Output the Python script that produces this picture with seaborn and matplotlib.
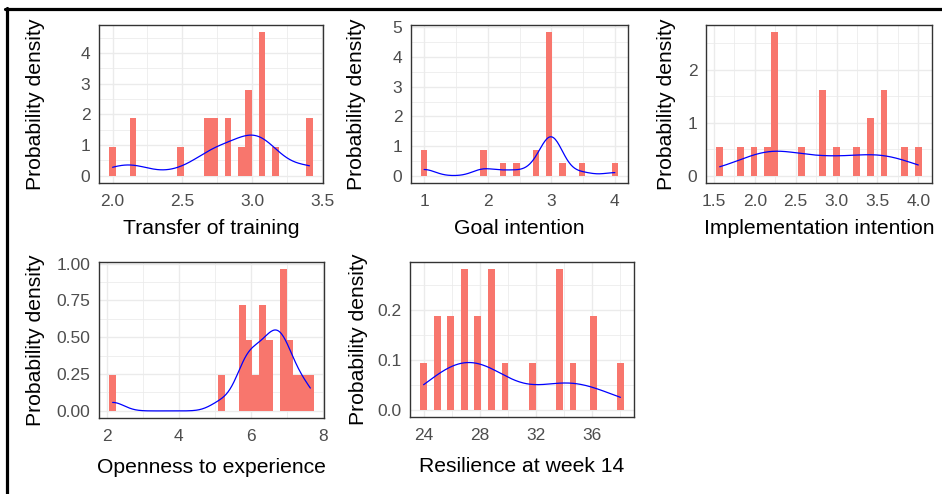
import matplotlib
matplotlib.use("Agg")
import matplotlib.pyplot as plt
from matplotlib.lines import Line2D
from matplotlib.ticker import AutoMinorLocator, FormatStrFormatter, MultipleLocator
import numpy as np
import pandas as pd
import seaborn as sns


TRANSFER_VALUES = [2.00, 2.15, 2.49, 2.68, 2.73, 2.83, 2.92, 2.97, 3.07, 3.17, 3.41]
TRANSFER_COUNTS = [1, 2, 1, 2, 2, 2, 1, 3, 5, 1, 2]

GOAL_VALUES = [1.00, 1.93, 2.24, 2.45, 2.76, 3.00, 3.17, 3.48, 4.00]
GOAL_COUNTS = [2, 2, 1, 1, 2, 11, 1, 1, 1]

IMPL_VALUES = [1.57, 1.82, 1.99, 2.16, 2.24, 2.58, 2.83, 3.00, 3.25, 3.41, 3.58, 3.83, 4.00]
IMPL_COUNTS = [1, 1, 1, 1, 5, 1, 3, 1, 1, 2, 3, 1, 1]

OPEN_VALUES = [2.17, 5.19, 5.84, 5.95, 6.20, 6.40, 6.60, 6.82, 7.00, 7.27, 7.46, 7.65]
OPEN_COUNTS = [1, 1, 3, 2, 1, 3, 2, 4, 2, 1, 1, 1]

RESIL_VALUES = [24.0, 24.97, 25.93, 26.90, 27.86, 28.83, 29.79, 31.72, 33.66, 34.62, 36.07, 38.0]
RESIL_COUNTS = [1, 2, 2, 3, 2, 3, 1, 1, 3, 1, 2, 1]

VARIABLES = [
    "Transfer of training",
    "Goal intention",
    "Implementation intention",
    "Openness to experience",
    "Resilience at week 14",
]
DATA = {
    "Transfer of training": (TRANSFER_VALUES, TRANSFER_COUNTS),
    "Goal intention": (GOAL_VALUES, GOAL_COUNTS),
    "Implementation intention": (IMPL_VALUES, IMPL_COUNTS),
    "Openness to experience": (OPEN_VALUES, OPEN_COUNTS),
    "Resilience at week 14": (RESIL_VALUES, RESIL_COUNTS),
}

W, H = 942, 494
# panel boxes in pixels (left, top, right, bottom), tick steps/formats, label offsets
LAYOUT = {
    "Transfer of training": dict(box=(99, 25, 323, 183), xs=0.5, xf="%.1f", ys=1, yf="%d", ylx=36, xly=46),
    "Goal intention": dict(box=(411, 25, 628, 183), xs=1, xf="%d", ys=1, yf="%d", ylx=357, xly=46),
    "Implementation intention": dict(box=(706, 25, 932, 183), xs=0.5, xf="%.1f", ys=1, yf="%d", ylx=667, xly=46),
    "Openness to experience": dict(box=(99, 262, 324, 418), xs=2, xf="%d", ys=0.25, yf="%.2f", ylx=36, xly=49),
    "Resilience at week 14": dict(box=(410, 262, 634, 417), xs=4, xf="%d", ys=0.1, yf="%.1f", ylx=359, xly=49),
}

BAR = "#F8766D"
LINE = "#0000FF"

sns.set_style("white")
plt.rcParams["font.family"] = ["Liberation Sans", "DejaVu Sans"]


def nrd0_adjust(x):
    # R's bw.nrd0 expressed relative to scipy's scott factor
    sd = np.std(x, ddof=1)
    iqr = np.subtract(*np.percentile(x, [75, 25]))
    return 0.9 * min(sd, iqr / 1.34) / sd


fig = plt.figure(figsize=(W / 100, H / 100), dpi=100)

for name in VARIABLES:
    vals, counts = DATA[name]
    df = pd.DataFrame({"score": np.repeat(vals, counts)})
    lay = LAYOUT[name]
    l, t, r, b = lay["box"]
    ax = fig.add_axes([l / W, 1 - b / H, (r - l) / W, (b - t) / H])

    lo, hi = df["score"].min(), df["score"].max()
    bw = (hi - lo) / 29
    sns.histplot(
        data=df, x="score", bins=30, binrange=(lo - bw / 2, hi + bw / 2),
        stat="density", color=BAR, alpha=1, linewidth=0, ax=ax, zorder=2,
    )
    sns.kdeplot(
        data=df, x="score", bw_adjust=nrd0_adjust(df["score"]), cut=0,
        color=LINE, linewidth=0.9, ax=ax, zorder=3,
    )

    ax.use_sticky_edges = False
    ax.margins(0.05)
    ax.autoscale_view()

    ax.xaxis.set_major_locator(MultipleLocator(lay["xs"]))
    ax.yaxis.set_major_locator(MultipleLocator(lay["ys"]))
    ax.xaxis.set_major_formatter(FormatStrFormatter(lay["xf"]))
    ax.yaxis.set_major_formatter(FormatStrFormatter(lay["yf"]))
    ax.xaxis.set_minor_locator(AutoMinorLocator(2))
    ax.yaxis.set_minor_locator(AutoMinorLocator(2))
    ax.set_axisbelow(True)
    ax.grid(which="major", color="#EBEBEB", linewidth=1.0)
    ax.grid(which="minor", color="#EBEBEB", linewidth=0.55)
    ax.tick_params(which="major", direction="out", length=3.2, width=0.8,
                   color="#333333", labelcolor="#4D4D4D", labelsize=12.5)
    ax.tick_params(axis="x", which="major", pad=4.5)
    ax.tick_params(axis="y", which="major", pad=3)
    ax.tick_params(which="minor", length=0)
    for sp in ax.spines.values():
        sp.set_visible(True)
        sp.set_color("#333333")
        sp.set_linewidth(1.0)

    ax.set_xlabel(name, fontsize=15.2, color="black", va="center")
    ax.set_ylabel("Probability density", fontsize=15.2, color="black", va="center")
    ax.xaxis.set_label_coords(0.5, -lay["xly"] / (b - t))
    ax.yaxis.set_label_coords((lay["ylx"] - l) / (r - l), 0.5)

# black frame of the screenshot (top and left edges)
fig.add_artist(Line2D([5 / W, 1], [1 - 9.5 / H, 1 - 9.5 / H], color="black", linewidth=2.3,
                      transform=fig.transFigure))
fig.add_artist(Line2D([6.5 / W, 6.5 / W], [0, 1 - 8 / H], color="black", linewidth=2.3,
                      transform=fig.transFigure))

fig.savefig("out.png", dpi=100, facecolor="white")
